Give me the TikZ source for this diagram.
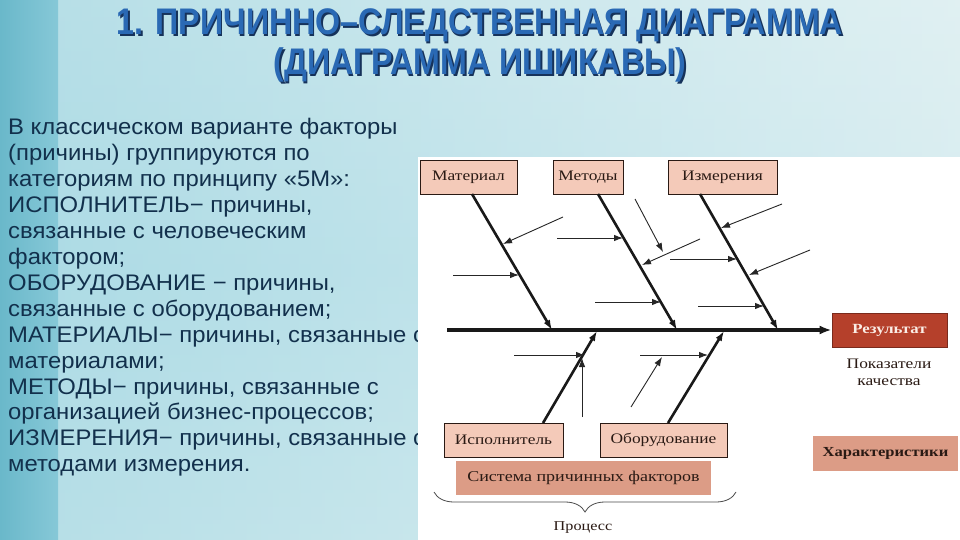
\documentclass[tikz,border=0pt]{standalone}
\usepackage{fontspec}
\setmainfont{Liberation Serif}
\newfontfamily\bodyfont[FakeStretch=1.06]{Liberation Sans}
\newfontfamily\titlefont[FakeStretch=0.87]{Liberation Sans}
\newfontfamily\dfont[FakeStretch=1.2]{Liberation Serif}
\usetikzlibrary{arrows.meta,decorations.pathreplacing}
\definecolor{boxlight}{HTML}{F4CAB9}
\definecolor{boxmid}{HTML}{DC9C86}
\definecolor{boxred}{HTML}{B5402B}
\definecolor{boxredline}{HTML}{7A2A1C}
\definecolor{restext}{HTML}{FBEDE6}
\definecolor{dtext}{HTML}{2A1A14}
\definecolor{bodycol}{HTML}{12304C}
\definecolor{titleblue}{HTML}{2A69B4}
\definecolor{titleshadow}{HTML}{16325A}
\definecolor{bgA}{HTML}{8CCDDB}
\definecolor{bgB}{HTML}{E4F2F3}
\definecolor{bgC}{HTML}{DDEFF2}
\definecolor{bgD}{HTML}{C9E7EE}
\definecolor{bgE}{HTML}{6AB8CA}
\definecolor{bgF}{HTML}{86C8D7}
\tikzset{
  x=1pt, y=-1pt,
  catbox/.style={draw=dtext, line width=0.8pt, fill=boxlight, minimum height=34pt, inner sep=0pt, font=\dfont\fontsize{14.5}{15}\selectfont, text=dtext},
  midbox/.style={fill=boxmid, minimum height=34pt, inner sep=0pt, text=dtext},
  bone/.style={line width=2.6pt, draw=black!90, -{Latex[length=10pt,width=7pt]}},
  spine/.style={line width=3.4pt, draw=black!90, -{Latex[length=12pt,width=9pt]}},
  twig/.style={line width=0.9pt, draw=black!85, -{Latex[length=9pt,width=6.5pt]}},
  bodyline/.style={anchor=base west, inner sep=0pt, font=\bodyfont\fontsize{22.5}{26}\selectfont, text=bodycol},
  titleline/.style={inner sep=0pt, anchor=base, font=\titlefont\bfseries\fontsize{37}{40}\selectfont},
  plain/.style={inner sep=0pt, font=\dfont\fontsize{13.5}{14}\selectfont, text=dtext}
}
\begin{document}
\begin{tikzpicture}
\useasboundingbox (0,0) rectangle (960,540);
% background
\shade[left color=bgA, right color=bgB] (0,0) rectangle (960,540);
\shade[top color=bgC, bottom color=bgC, middle color=bgD, opacity=0.5] (0,0) rectangle (960,540);
\shade[left color=bgE, right color=bgF] (0,0) rectangle (58,540);
% title
\node[titleline, text=titleshadow] (t1s) at (481.5,36.5) {1. ПРИЧИННО–СЛЕДСТВЕННАЯ ДИАГРАММА};
\node[titleline, text=titleblue] (t1) at (480,35) {1. ПРИЧИННО–СЛЕДСТВЕННАЯ ДИАГРАММА};
\node[titleline, text=titleshadow] (t2s) at (481.5,76.5) {(ДИАГРАММА ИШИКАВЫ)};
\node[titleline, text=titleblue] (t2) at (480,75) {(ДИАГРАММА ИШИКАВЫ)};
% body text
\node[bodyline] (b1) at (8,135) {В классическом варианте факторы};
\node[bodyline] (b2) at (8,160.9) {(причины) группируются по};
\node[bodyline] (b3) at (8,186.8) {категориям по принципу «5М»:};
\node[bodyline] (b4) at (8,212.7) {ИСПОЛНИТЕЛЬ− причины,};
\node[bodyline] (b5) at (8,238.6) {связанные с человеческим};
\node[bodyline] (b6) at (8,264.5) {фактором;};
\node[bodyline] (b7) at (8,290.4) {ОБОРУДОВАНИЕ − причины,};
\node[bodyline] (b8) at (8,316.3) {связанные с оборудованием;};
\node[bodyline] (b9) at (8,342.2) {МАТЕРИАЛЫ− причины, связанные с};
\node[bodyline] (b10) at (8,368.1) {материалами;};
\node[bodyline] (b11) at (8,394.0) {МЕТОДЫ− причины, связанные с};
\node[bodyline] (b12) at (8,419.9) {организацией бизнес-процессов;};
\node[bodyline] (b13) at (8,445.8) {ИЗМЕРЕНИЯ− причины, связанные с};
\node[bodyline] (b14) at (8,471.7) {методами измерения.};
% white panel
\fill[white] (418,157) rectangle (960,540);
% boxes
\node[catbox, minimum width=97pt] (mat) at (468.5,177) {Материал};
\node[catbox, minimum width=70pt] (met) at (588,177) {Методы};
\node[catbox, minimum width=109pt] (izm) at (722.5,177) {Измерения};
\node[catbox, minimum width=119pt] (isp) at (503.5,440) {Исполнитель};
\node[catbox, minimum width=127pt] (obo) at (663.5,440) {Оборудование};
\node[midbox, minimum width=255pt, minimum height=34pt, font=\dfont\fontsize{15}{16}\selectfont] (sys) at (583.5,478) {Система причинных факторов};
\node[draw=boxredline, line width=0.8pt, fill=boxred, minimum width=115pt, minimum height=34pt, inner sep=0pt, text=restext, font=\dfont\bfseries\fontsize{14}{15}\selectfont] (res) at (889.5,330) {Результат};
\node[midbox, minimum width=145pt, minimum height=35pt, font=\dfont\bfseries\fontsize{13.8}{15}\selectfont] (har) at (885.5,453.5) {Характеристики};
\node[plain, align=center, font=\dfont\fontsize{14.5}{17}\selectfont] (pok) at (889,372) {Показатели\\качества};
% spine
\coordinate (sp0) at (447,330);
\draw[spine] (sp0) -- (res.west);
% bone coordinates
\coordinate (mS) at (472,194);  \coordinate (mE) at (552,330);
\coordinate (tS) at (598,194);  \coordinate (tE) at (677,330);
\coordinate (zS) at (700,194);  \coordinate (zE) at (778,330);
\coordinate (iS) at (543,423);  \coordinate (iE) at (597,331);
\coordinate (oS) at (668,423);  \coordinate (oE) at (724,331);
\draw[bone] (mS) -- (mE);
\draw[bone] (tS) -- (tE);
\draw[bone] (zS) -- (zE);
\draw[bone] (iS) -- (iE);
\draw[bone] (oS) -- (oE);
% twigs
\coordinate (a1s) at (563,217); \coordinate (a1e) at (503,244);
\coordinate (a2s) at (453,275); \coordinate (a2e) at (519,275);
\coordinate (b1s) at (557,238); \coordinate (b1e) at (623,238);
\coordinate (b2s) at (635,199); \coordinate (b2e) at (663,252);
\coordinate (b3s) at (700,239); \coordinate (b3e) at (642,265);
\coordinate (b4s) at (595,302); \coordinate (b4e) at (661,302);
\coordinate (c1s) at (782,204); \coordinate (c1e) at (721,228);
\coordinate (c2s) at (670,259); \coordinate (c2e) at (737,259);
\coordinate (c3s) at (810,250); \coordinate (c3e) at (749,275);
\coordinate (c4s) at (698,306); \coordinate (c4e) at (764,306);
\coordinate (d1s) at (514,355); \coordinate (d1e) at (585,355);
\coordinate (d2s) at (582,417); \coordinate (d2e) at (582,358);
\coordinate (e1s) at (640,355); \coordinate (e1e) at (708,355);
\coordinate (e2s) at (631,407); \coordinate (e2e) at (662,357);
\foreach \n in {a1,a2,b1,b2,b3,b4,c1,c2,c3,c4,d1,d2,e1,e2}
  \draw[twig] (\n s) -- (\n e);
% brace
\coordinate (brR) at (736,492);
\coordinate (brL) at (434,492);
\draw[draw=black!70, line width=0.8pt, decorate, decoration={brace, amplitude=20pt}] (brR) -- (brL);
\node[plain, font=\dfont\fontsize{13.5}{14}\selectfont] (proc) at (583,528) {Процесс};
\end{tikzpicture}
\end{document}
